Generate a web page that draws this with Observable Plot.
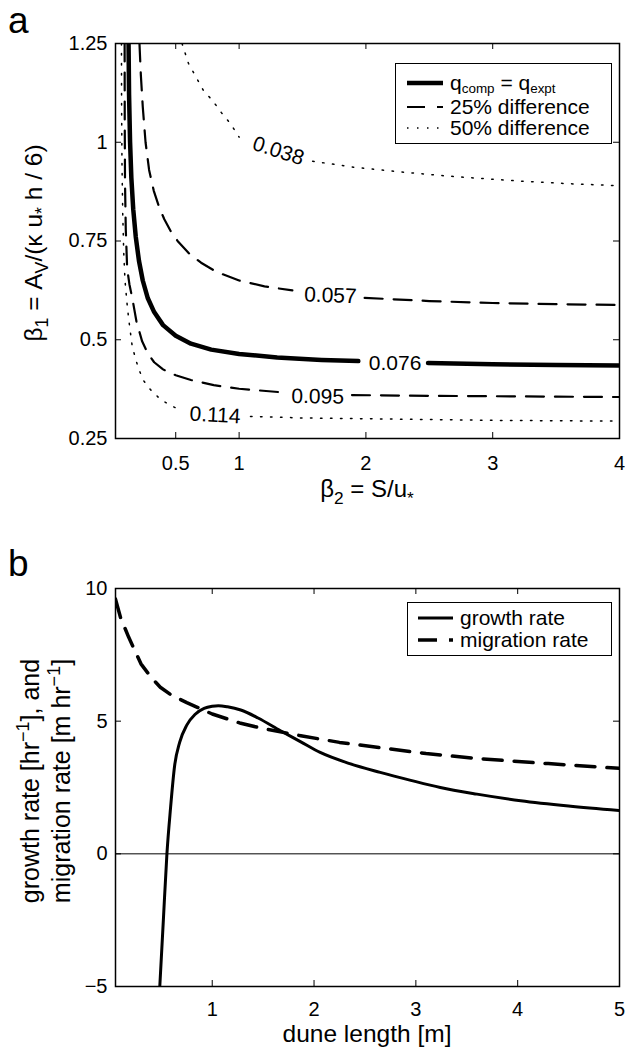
<!DOCTYPE html>
<html><head><meta charset="utf-8">
<script src="https://cdn.jsdelivr.net/npm/d3@7"></script>
<script src="https://cdn.jsdelivr.net/npm/@observablehq/plot@0.6"></script>
<style>
body{margin:0;background:#fff;font-family:"Liberation Sans",Arial,Helvetica,sans-serif;}
#fig{position:relative;width:625px;height:1052px;overflow:hidden;background:#fff;}
#fig svg{position:absolute;left:0;}
.abs{position:absolute;white-space:nowrap;color:#000;line-height:1;}
.rot{transform:translate(-50%,-50%) rotate(-90deg);text-align:center;}
.hc{transform:translateX(-50%);}
sub{font-size:0.72em;vertical-align:-0.38em;line-height:0}
sup{font-size:0.72em;vertical-align:0.55em;line-height:0}
.legend{position:absolute;border:1.5px solid #000;background:#fff;box-sizing:border-box;}
.row{position:absolute;left:0;display:flex;align-items:center;height:21px;line-height:1;font-size:21px;white-space:nowrap;}
.row svg{position:static !important;}
.row sub{font-size:0.64em;vertical-align:-0.2em;}
</style></head><body><div id="fig">
<div class="abs" style="left:8px;top:2px;font-size:37px;">a</div>
<div class="abs" style="left:8px;top:545px;font-size:37px;">b</div>
<div class="abs hc" style="left:367px;top:477px;font-size:24px;">β<sub>2</sub> = S/u<sub>*</sub></div>
<div class="abs hc" style="left:367px;top:1022px;font-size:24.5px;">dune length [m]</div>
<div class="abs rot" style="left:34px;top:243px;font-size:24.5px;">β<sub>1</sub> = A<sub>V</sub>/(κ u<sub>*</sub> h / 6)</div>
<div class="abs rot" style="left:46px;top:781px;font-size:25px;line-height:31px;">growth rate [hr<sup>−1</sup>], and<br>migration rate [m hr<sup>−1</sup>]</div>
<div class="legend" style="left:395px;top:63px;width:217px;height:81px;">
  <div class="row" style="top:8px;left:11px;"><svg width="36" height="10"><line x1="0" y1="5" x2="36" y2="5" stroke="#000" stroke-width="4.5"/></svg><span style="margin-left:7px">q<sub>comp</sub> = q<sub>expt</sub></span></div>
  <div class="row" style="top:32px;left:11px;"><svg width="36" height="10"><line x1="0" y1="5" x2="36" y2="5" stroke="#000" stroke-width="2.2" stroke-dasharray="18,12"/></svg><span style="margin-left:7px">25% difference</span></div>
  <div class="row" style="top:53px;left:11px;"><svg width="36" height="10"><line x1="0" y1="5" x2="36" y2="5" stroke="#000" stroke-width="1.5" stroke-dasharray="1.5,8.5"/></svg><span style="margin-left:7px">50% difference</span></div>
</div>
<div class="legend" style="left:407px;top:602px;width:205px;height:54px;">
  <div class="row" style="top:4px;left:10px;"><svg width="35" height="10"><line x1="0" y1="5" x2="35" y2="5" stroke="#000" stroke-width="3"/></svg><span style="margin-left:7px">growth rate</span></div>
  <div class="row" style="top:26px;left:10px;"><svg width="35" height="10"><line x1="0" y1="5" x2="35" y2="5" stroke="#000" stroke-width="3.5" stroke-dasharray="19,12"/></svg><span style="margin-left:7px">migration rate</span></div>
</div>
</div>
<script>
// ---------- Panel a data ----------
const betaTicksX = [0.5, 1, 2, 3, 4];
const betaTicksY = [0.25, 0.5, 0.75, 1, 1.25];

// q_comp = q_expt contour (0.076), null = gap for the label
const c076X = [0.128, 0.132, 0.14, 0.15, 0.165, 0.185, 0.21, 0.24, 0.28, 0.33, 0.4, 0.5, 0.62, 0.78, 1.0, 1.3, 1.65, 1.94, null, 2.49, 3.0, 3.5, 4.0];
const c076Y = [1.25, 1.12, 1.0, 0.91, 0.83, 0.76, 0.70, 0.65, 0.605, 0.57, 0.537, 0.51, 0.49, 0.475, 0.464, 0.455, 0.449, 0.446, null, 0.441, 0.438, 0.436, 0.435];

// 25% difference contours (0.057 and 0.095)
const c057X = [0.214, 0.225, 0.24, 0.262, 0.29, 0.327, 0.37, 0.41, 0.46, 0.52, 0.6, 0.7, 0.82, 1.0, 1.2, 1.42, null, 1.99, 2.5, 3.0, 3.5, 4.0];
const c057Y = [1.25, 1.17, 1.09, 1.0, 0.93, 0.877, 0.835, 0.805, 0.775, 0.748, 0.72, 0.695, 0.672, 0.65, 0.635, 0.625, null, 0.606, 0.598, 0.593, 0.59, 0.588];
const c095X = [0.097, 0.098, 0.1, 0.106, 0.117, 0.135, 0.157, 0.19, 0.235, 0.28, 0.33, 0.4, 0.5, 0.62, 0.8, 1.0, 1.33, null, 1.89, 2.5, 3.0, 3.5, 4.0];
const c095Y = [1.25, 1.05, 0.9, 0.78, 0.68, 0.64, 0.606, 0.547, 0.496, 0.465, 0.443, 0.425, 0.41, 0.398, 0.385, 0.376, 0.367, null, 0.36, 0.358, 0.357, 0.356, 0.355];

// 50% difference contours (0.038 and 0.114)
const c038X = [0.55, 0.6, 0.66, 0.72, 0.79, 0.86, 0.93, 1.0, null, 1.58, 1.9, 2.27, 2.7, 3.2, 3.6, 4.0];
const c038Y = [1.25, 1.2, 1.165, 1.13, 1.106, 1.075, 1.048, 1.013, null, 0.952, 0.937, 0.925, 0.913, 0.902, 0.895, 0.89];
const c114X = [0.072, 0.073, 0.076, 0.082, 0.09, 0.1, 0.115, 0.13, 0.157, 0.185, 0.21, 0.25, 0.30, 0.38, 0.47, 0.51, null, 1.09, 1.5, 2.0, 2.5, 3.0, 3.5, 4.0];
const c114Y = [1.25, 1.1, 0.95, 0.82, 0.72, 0.65, 0.595, 0.55, 0.483, 0.45, 0.424, 0.395, 0.374, 0.349, 0.332, 0.326, null, 0.306, 0.302, 0.3, 0.298, 0.296, 0.295, 0.294];

// contour labels
const labelText = ["0.038", "0.057", "0.076", "0.095", "0.114"];
const labelX = [1.31, 1.72, 2.23, 1.62, 0.81];
const labelY = [0.978, 0.612, 0.441, 0.356, 0.309];
const labelAngle = [18, 2, 0, 1, 3];

// ---------- Panel b data ----------
const lengthTicks = [1, 2, 3, 4, 5];
const rateTicks = [-5, 0, 5, 10];
const growthX = [0.485, 0.52, 0.555, 0.59, 0.63, 0.68, 0.75, 0.83, 0.92, 1.0, 1.06, 1.15, 1.28, 1.45, 1.67, 1.87, 2.06, 2.35, 2.65, 2.95, 3.24, 3.6, 4.03, 4.5, 5.0];
const growthY = [-5, -2.5, 0, 1.7, 3.3, 4.2, 4.85, 5.25, 5.48, 5.56, 5.58, 5.54, 5.42, 5.12, 4.64, 4.22, 3.82, 3.4, 3.07, 2.77, 2.5, 2.25, 2.0, 1.8, 1.63];
const migrationX = [0.05, 0.1, 0.18, 0.3, 0.4, 0.49, 0.6, 0.75, 0.885, 1.0, 1.28, 1.5, 1.87, 2.25, 2.65, 3.1, 3.64, 4.3, 5.0];
const migrationY = [9.6, 8.9, 8.16, 7.16, 6.65, 6.28, 5.98, 5.7, 5.47, 5.27, 4.92, 4.72, 4.45, 4.2, 4.0, 3.78, 3.58, 3.4, 3.22];

const pts = (xs, ys) => xs.map((x, i) => ({x, y: ys[i]}));
const labels = labelText.map((t, i) => ({t, x: labelX[i], y: labelY[i], a: labelAngle[i]}));
const fmt = d => (d < 0 ? "\u2212" + Math.abs(d) : String(d));

const font = "'Liberation Sans', Arial, Helvetica, sans-serif";
const W = 625, ML = 115, MR = 6;
const innerW = W - ML - MR;
const tk = 6;

// Panel a
const HA = 510, MTA = 43, MBA = 72, innerHA = HA - MTA - MBA;
const plotA = Plot.plot({
  width: W, height: HA,
  marginLeft: ML, marginRight: MR, marginTop: MTA, marginBottom: MBA,
  style: {fontFamily: font, fontSize: "20px", color: "black", background: "white"},
  x: {domain: [0.025, 4], ticks: betaTicksX, tickFormat: fmt, tickSize: 0, tickPadding: 17, label: null},
  y: {domain: [0.25, 1.25], ticks: betaTicksY, tickFormat: fmt, tickSize: 0, tickPadding: 8, label: null},
  marks: [
    Plot.line(pts(c038X, c038Y), {x: "x", y: "y", stroke: "black", strokeWidth: 1.5, strokeDasharray: "1.5,8.5", clip: true}),
    Plot.line(pts(c114X, c114Y), {x: "x", y: "y", stroke: "black", strokeWidth: 1.5, strokeDasharray: "1.5,8.5", clip: true}),
    Plot.line(pts(c057X, c057Y), {x: "x", y: "y", stroke: "black", strokeWidth: 2.2, strokeDasharray: "18,11", clip: true}),
    Plot.line(pts(c095X, c095Y), {x: "x", y: "y", stroke: "black", strokeWidth: 2.2, strokeDasharray: "18,11", clip: true}),
    Plot.line(pts(c076X, c076Y), {x: "x", y: "y", stroke: "black", strokeWidth: 4.5, clip: true}),
    Plot.text(labels, {x: "x", y: "y", text: "t", rotate: "a", fontSize: 21, fill: "black"}),
    Plot.ruleY(betaTicksY, {y: d => d, insetRight: innerW - tk, stroke: "black"}),
    Plot.ruleY(betaTicksY, {y: d => d, insetLeft: innerW - tk, stroke: "black"}),
    Plot.ruleX(betaTicksX, {x: d => d, insetTop: innerHA - tk, stroke: "black"}),
    Plot.ruleX(betaTicksX, {x: d => d, insetBottom: innerHA - tk, stroke: "black"}),
    Plot.frame({stroke: "black", strokeWidth: 1.5})
  ]
});
plotA.style.top = "0px";

// Panel b
const HB = 507, MTB = 43, MBB = 66, innerHB = HB - MTB - MBB;
const plotB = Plot.plot({
  width: W, height: HB,
  marginLeft: ML, marginRight: MR, marginTop: MTB, marginBottom: MBB,
  style: {fontFamily: font, fontSize: "20px", color: "black", background: "white"},
  x: {domain: [0.05, 5], ticks: lengthTicks, tickFormat: fmt, tickSize: 0, tickPadding: 15, label: null},
  y: {domain: [-5, 10], ticks: rateTicks, tickFormat: fmt, tickSize: 0, tickPadding: 8, label: null},
  marks: [
    Plot.ruleY([0], {stroke: "black", strokeWidth: 1}),
    Plot.line(pts(migrationX, migrationY), {x: "x", y: "y", stroke: "black", strokeWidth: 3.5, strokeDasharray: "19,12", clip: true}),
    Plot.line(pts(growthX, growthY), {x: "x", y: "y", stroke: "black", strokeWidth: 3, clip: true, curve: "monotone-x"}),
    Plot.ruleY(rateTicks, {y: d => d, insetRight: innerW - tk, stroke: "black"}),
    Plot.ruleY(rateTicks, {y: d => d, insetLeft: innerW - tk, stroke: "black"}),
    Plot.ruleX(lengthTicks, {x: d => d, insetTop: innerHB - tk, stroke: "black"}),
    Plot.ruleX(lengthTicks, {x: d => d, insetBottom: innerHB - tk, stroke: "black"}),
    Plot.frame({stroke: "black", strokeWidth: 1.5})
  ]
});
plotB.style.top = "545px";

const fig = document.getElementById("fig");
fig.insertBefore(plotB, fig.firstChild);
fig.insertBefore(plotA, fig.firstChild);
</script>
</body></html>
